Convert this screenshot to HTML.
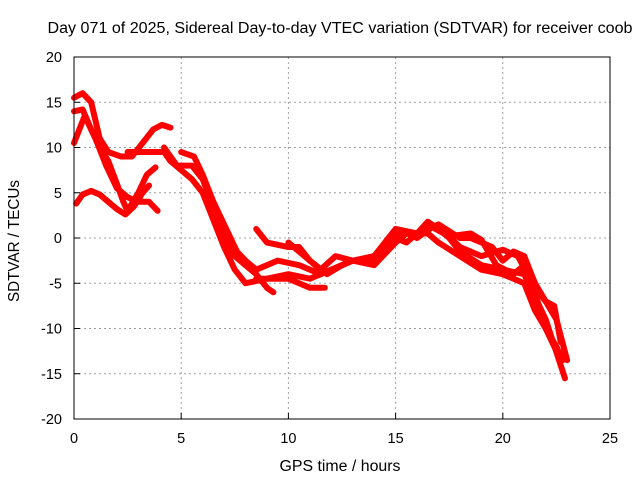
<!DOCTYPE html>
<html><head><meta charset="utf-8"><style>
body{margin:0;background:#fff}
svg{display:block;font-family:"Liberation Sans",sans-serif}
</style></head><body>
<svg id="chart" width="640" height="480" viewBox="0 0 640 480">
<text x="340" y="33" font-size="15.5" text-anchor="middle" textLength="585" lengthAdjust="spacingAndGlyphs">Day 071 of 2025, Sidereal Day-to-day VTEC variation (SDTVAR) for receiver coob</text>
<g id="grid"></g>
<g id="series"></g>
<rect x="74" y="57" width="536" height="362" fill="none" stroke="#000" stroke-width="1"/>
<g id="ticks"></g>
<text x="340" y="471" font-size="15.5" text-anchor="middle" textLength="121" lengthAdjust="spacingAndGlyphs">GPS time / hours</text>
<text transform="translate(19,241) rotate(-90)" font-size="15.5" text-anchor="middle" textLength="122" lengthAdjust="spacingAndGlyphs">SDTVAR / TECUs</text>
</svg>
<script>
const xTicks=[0,5,10,15,20,25];
const yTicks=[-20,-15,-10,-5,0,5,10,15,20];
const t1=[[0,15.5],[0.4,16],[0.8,15],[1.2,11],[1.6,9.5],[2.2,9],[2.7,9],[3.2,10.5],[3.7,12],[4.1,12.5],[4.5,12.2]];
const t2=[[0,14],[0.4,14.2],[0.8,12],[1.2,10],[1.6,8.5],[2,6],[2.3,4],[2.5,3],[3,5],[3.4,7],[3.8,7.8]];
const t3=[[0.1,3.8],[0.4,4.8],[0.8,5.2],[1.2,4.8],[1.6,4],[2,3.2],[2.4,2.6],[2.8,3.5],[3.2,5],[3.5,5.8]];
const t4=[[0,10.5],[0.5,13.5],[1,11],[1.5,8],[2,5.5],[2.5,4.5],[3,4],[3.5,4],[3.9,3]];
const t5=[[2.5,9.5],[3.5,9.5],[4.2,9.5],[4.5,8.5],[5,7.5],[5.5,6.5],[6,5],[6.5,2],[7,-1],[7.5,-3.5],[8,-5],[9,-4.5],[10,-4],[11,-4.5],[12,-3.5],[13,-2.5],[14,-2.5],[14.5,-1.5],[15,0],[15.5,-0.5],[16,0.5],[16.5,1.8],[17,1],[17.5,0],[18,-1.5],[19,-3],[20,-3.5],[21,-4],[22,-9],[22.9,-15.5]];
const t6=[[4.2,10],[4.8,8],[5.5,8],[6,6.5],[6.5,3.5],[7,0.5],[7.5,-2],[8,-3],[8.5,-4],[9,-5.5],[9.3,-6]];
const t6b=[[8.5,-4.5],[10,-4.5],[11,-5.5],[11.7,-5.5]];
const t7=[[5,9.5],[5.6,9],[6,7],[6.5,4],[7,1.5],[7.6,-1.5],[8,-2.5],[8.5,-3.5],[9.5,-2.5],[10.5,-3],[11.5,-4],[12,-3.5],[13,-2.5],[14,-3],[15,-0.5],[15.5,0.5],[16.5,0.5],[17,-0.5],[18,-2],[19,-3.5],[20,-4],[21,-5],[21.5,-8],[22,-10],[22.6,-13]];
const t8=[[8.5,1],[9,-0.5],[10,-1],[10.5,-1],[11,-2.5],[11.8,-4],[12.5,-3],[13,-2.5],[14,-2],[15,1],[16,0.5],[17,1.5],[18,0],[18.5,0],[19,-0.5],[19.5,-1],[20,-2.5],[20.5,-1.5],[21,-2],[21.5,-5],[22,-7],[22.5,-9],[23,-13.5]];
const t9=[[10,-0.5],[11,-2.5],[11.5,-3.5],[12.2,-2],[13,-2.5],[14,-2.8],[14.6,-1],[15.3,0.8],[16,0],[16.7,1.2],[17.5,0.2],[18.5,0.5],[19,-0.2],[19.7,-3],[20.5,-4],[21,-3],[21.5,-6],[22,-10],[22.5,-12],[22.8,-13.5]];
const t10=[[17,1.3],[18,-1],[19,-2],[20,-1.3],[20.7,-2],[21.5,-5.5],[22,-7],[22.4,-7.5],[22.7,-11.5]];
const seriesList=[t1,t2,t3,t4,t5,t6,t6b,t7,t8,t9,t10];
const X0=74,X1=610,Y0=419,Y1=57;
const xs=v=>X0+(v-0)/(25-0)*(X1-X0);
const ys=v=>Y0-(v+20)/40*(Y0-Y1);
const NS='http://www.w3.org/2000/svg';
const grid=document.getElementById('grid'),ticks=document.getElementById('ticks'),ser=document.getElementById('series');
function mk(tag,attrs,parent){const e=document.createElementNS(NS,tag);for(const k in attrs)e.setAttribute(k,attrs[k]);parent.appendChild(e);return e;}
xTicks.forEach(t=>{
 const x=xs(t);
 if(t>0&&t<25){const g=mk('line',{x1:x,x2:x,y1:Y1,y2:Y0,stroke:'#a0a0a0','stroke-dasharray':'2,3'},grid);
 
 }
 const l=mk('text',{x:x,y:443,'font-size':14.5,'text-anchor':'middle'},ticks);l.textContent=t;
 
 
 mk('line',{x1:x,x2:x,y1:Y0,y2:Y0-6,stroke:'#000'},ticks);
});
yTicks.forEach(t=>{
 const y=ys(t);
 if(t>-20&&t<20){const g=mk('line',{x1:X0,x2:X1,y1:y,y2:y,stroke:'#a0a0a0','stroke-dasharray':'2,3'},grid);
 
 }
 const l=mk('text',{x:62,y:y+5,'font-size':14.5,'text-anchor':'end'},ticks);l.textContent=t;
 
 
 mk('line',{x1:X0,x2:X0+6,y1:y,y2:y,stroke:'#000'},ticks);
});
seriesList.forEach((s,i)=>{
 const p=mk('polyline',{points:s.map(d=>xs(d[0])+','+ys(d[1])).join(' '),fill:'none',stroke:'#ff0000','stroke-width':6,'stroke-linejoin':'round','stroke-linecap':'round'},ser);
 
 
});
</script>
</body></html>
